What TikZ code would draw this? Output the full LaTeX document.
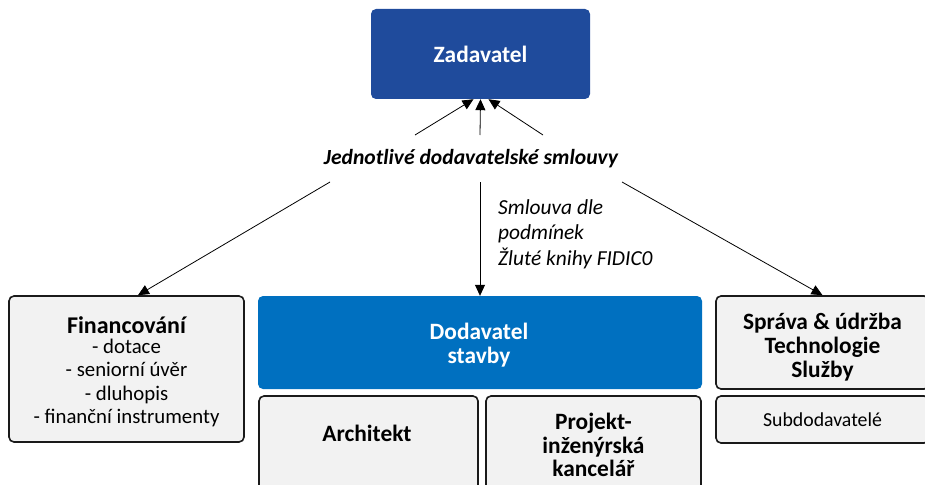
\documentclass[tikz,border=0pt]{standalone}
\usepackage{fontspec}
\setmainfont{Carlito}
\usetikzlibrary{arrows.meta,calc}
\definecolor{zadblue}{RGB}{31,75,156}
\definecolor{dodblue}{RGB}{0,112,192}
\definecolor{boxgray}{RGB}{242,242,242}
\definecolor{boxline}{RGB}{26,26,26}
\tikzset{
  bluebox/.style={draw=none, rounded corners=5pt, inner sep=0pt, text=white, font=\fontsize{23.4}{24}\selectfont\bfseries, align=center},
  graybox/.style={draw=boxline, line width=1.6pt, fill=boxgray, rounded corners=5pt, inner sep=0pt, align=center},
  headtxt/.style={font=\fontsize{23.4}{23.8}\selectfont\bfseries, align=center, inner sep=0pt},
  arr/.style={-{Triangle[length=11pt,width=10pt]}, line width=0.8pt}
}
\begin{document}
\begin{tikzpicture}[x=1pt,y=-1pt]
\clip (0,0) rectangle (925,484);
% boxes
\node[bluebox, fill=zadblue, minimum width=219pt, minimum height=90pt] (zad) at (480.5,54) {Zadavatel};
\node[graybox, minimum width=235pt, minimum height=146pt] (fin) at (126.5,369) {};
\node[headtxt] (fintxt) at (126.5,325) {\fontsize{24}{24}\selectfont Financování};
\node[font=\fontsize{20.8}{23.3}\selectfont, align=center, inner sep=0pt] (finlist) at (126.5,383) {- dotace\\ - seniorní úvěr\\ - dluhopis\\ - finanční instrumenty};
\node[bluebox, fill=dodblue, minimum width=444pt, minimum height=93pt] (dod) at (480,342.5) {};
\node[headtxt, text=white] (dodtxt) at (479,345) {Dodavatel\\stavby};
\node[graybox, minimum width=219pt, minimum height=130pt] (arch) at (368.5,461) {};
\node[headtxt] (archtxt) at (367,433) {Architekt};
\node[graybox, minimum width=215pt, minimum height=130pt] (proj) at (593.5,461) {};
\node[headtxt] (projtxt) at (593.5,445) {Projekt-\\inženýrská\\kancelář};
\node[graybox, minimum width=213pt, minimum height=93pt] (spr) at (822.5,342.5) {};
\node[headtxt] (sprtxt) at (822.5,347) {Správa \& údržba\\Technologie\\Služby};
\node[graybox, minimum width=213pt, minimum height=47pt, font=\fontsize{19.8}{20}\selectfont] (sub) at (822.5,419.5) {Subdodavatelé};
% labels
\node[font=\fontsize{21.6}{22}\selectfont\bfseries\itshape, inner sep=0pt] (lbl) at (471,159) {Jednotlivé dodavatelské smlouvy};
\node[font=\fontsize{21.4}{25.5}\selectfont\itshape, align=left, anchor=west, inner sep=0pt] (fidic) at (498,234) {Smlouva dle\\podmínek\\Žluté knihy FIDIC0};
% connector ends at label
\coordinate (t1) at (415,135);
\coordinate (t2) at (480,135);
\coordinate (t3) at (543,135);
\coordinate (b1) at (330,182);
\coordinate (b2) at (480,182);
\coordinate (b3) at (622,182);
% arrows
\draw[arr] (t1) -- ($(zad.south)+(-7,0)$);
\draw[arr] (t2) -- (zad.south);
\draw[arr] (t3) -- ($(zad.south)+(8,0)$);
\draw[arr] (b1) -- ($(fin.north)+(11.5,0)$);
\draw[arr] (b2) -- (dod.north);
\draw[arr] (b3) -- (spr.north);
\end{tikzpicture}
\end{document}
